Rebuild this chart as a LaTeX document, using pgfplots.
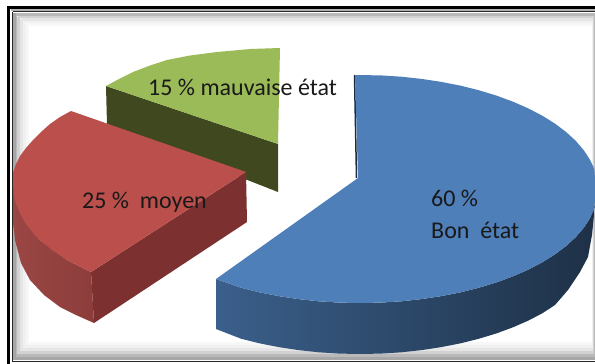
\documentclass[border=0pt]{standalone}
\usepackage{fontspec}
\setmainfont{Carlito}
\usepackage{pgfplots}
\pgfplotsset{compat=1.18}
\definecolor{bluetop}{HTML}{4E7FB9}
\definecolor{redtop}{HTML}{BA4F4C}
\definecolor{greentop}{HTML}{9BBB59}
\definecolor{greenside}{HTML}{40481F}
\definecolor{redside}{HTML}{7C3130}
\definecolor{redcurve}{HTML}{9A4644}
\definecolor{redcurveb}{HTML}{8C3D3B}
\begin{document}
\begin{tikzpicture}
\begin{axis}[
  at={(0,0)}, anchor=south west, scale only axis, width=595pt, height=364pt,
  xmin=0, xmax=595, ymin=0, ymax=364, y dir=reverse, hide axis, clip=true]
% soft inner shadow of the frame
\addplot[draw=gray!6, line width=3pt, forget plot] coordinates {(27,24) (593,24) (593,343) (27,343) (27,24)};
\addplot[draw=gray!12, line width=3pt, forget plot] coordinates {(24,21.5) (593.5,21.5) (593.5,346) (24,346) (24,21.5)};
\addplot[draw=gray!20, line width=3pt, forget plot] coordinates {(21,19) (594,19) (594,349) (21,349) (21,19)};
\addplot[draw=gray!35, line width=3pt, forget plot] coordinates {(18,16.5) (594.5,16.5) (594.5,352) (18,352) (18,16.5)};
\addplot[draw=gray!55, line width=3pt, forget plot] coordinates {(15,14) (595,14) (595,355) (15,355) (15,14)};
\addplot[draw=gray!70, line width=3pt, forget plot] coordinates {(14,13) (14,358) (595,358)};
% frame
\addplot[draw=black, line width=3.2pt, forget plot] coordinates {(8.5,7.5) (595,7.5)};
\addplot[draw=black, line width=3.2pt, forget plot] coordinates {(8.5,6) (8.5,364)};
\addplot[draw=gray!60, line width=2pt, forget plot] coordinates {(10.5,10) (595,10)};
\addplot[draw=black!85, line width=1.2pt, forget plot] coordinates {(12.5,11.7) (595,11.7)};
\addplot[draw=black!85, line width=1.2pt, forget plot] coordinates {(12.5,11.7) (12.5,361.5) (595,361.5)};
% green side
\addplot[fill=greenside, draw=none, forget plot] coordinates {(106,86) (278,144) (278,192) (107,125) (106,86)};
% green top
\addplot[fill=greentop, draw=none, forget plot] coordinates {(106,86) (119,79) (133,72) (150,65.5) (167,60) (190,55.5) (217,52) (250,49) (280,48) (278,144) (106,86)};
% red curved side
\addplot[left color=redcurve, right color=redcurveb, draw=none, forget plot] coordinates {(13,173) (20,213) (40,240) (67,260) (91,272) (94,323) (76,315) (60,307) (44,295) (30,280) (21,263) (15,240) (13,220) (13,173)};
% red front side
\addplot[fill=redside, draw=none, forget plot] coordinates {(246,172) (91,272) (94,323) (247,222) (246,172)};
% red top
\addplot[fill=redtop, draw=none, forget plot] coordinates {(71,111) (60,117) (50,124) (41,132) (33,140) (26,148) (20,156) (16,164) (13,173) (13,184) (14,195) (16,204) (20,213) (24,221) (29,228) (34,234) (40,240) (46,245) (52,250) (67,260) (91,272) (246,172) (71,111)};
% blue side
\addplot[left color=bluetop!75!black, middle color=bluetop!50!black, right color=bluetop!38!black, draw=none, forget plot] coordinates {(216,279) (241,287.7) (259.4,292.3) (278.6,296.1) (298.4,299.1) (318.7,301.3) (339.2,302.6) (360,303) (380.8,302.6) (401.3,301.3) (421.6,299.1) (441.4,296.1) (460.6,292.3) (479,287.7) (496.5,282.4) (513,276.3) (528.3,269.6) (542.3,262.3) (555,254.4) (566.1,246) (575.7,237.2) (583.6,228) (589.9,218.5) (595,205) (592,235) (588,257) (580,272) (568,290) (555,305) (542.3,313.3) (528.3,320.6) (513,327.3) (496.5,333.4) (479,338.7) (460.6,343.3) (441.4,347.1) (421.6,350.1) (401.3,352.3) (380.8,353.6) (360,354) (339.2,353.6) (318.7,352.3) (298.4,350.1) (278.6,347.1) (259.4,343.3) (241,338.7) (216,329) (216,279)};
% blue inner edge
\addplot[draw=bluetop!35!black, line width=1.5pt, forget plot] coordinates {(354.5,75) (356.5,178)};
% blue top
\addplot[fill=bluetop, draw=none, forget plot] coordinates {(355,75) (380.8,75.4) (401.3,76.7) (421.6,78.9) (441.4,81.9) (460.6,85.7) (479,90.3) (496.5,95.6) (513,101.7) (528.3,108.4) (542.3,115.7) (555,123.6) (566.1,132) (575.7,140.8) (583.6,150) (589.9,159.5) (594.4,169.2) (595,179) (595,199) (594.4,208.8) (589.9,218.5) (583.6,228) (575.7,237.2) (566.1,246) (555,254.4) (542.3,262.3) (528.3,269.6) (513,276.3) (496.5,282.4) (479,287.7) (460.6,292.3) (441.4,296.1) (421.6,299.1) (401.3,301.3) (380.8,302.6) (360,303) (339.2,302.6) (318.7,301.3) (298.4,299.1) (278.6,296.1) (259.4,292.3) (241,287.7) (216,279) (358,178) (355,75)};
\node[anchor=west, inner sep=0pt, text=black!90, font=\fontsize{24}{28}\selectfont] at (axis cs:148,87) {15 \% mauvaise état};
\node[anchor=west, inner sep=0pt, text=black!90, font=\fontsize{24}{28}\selectfont] at (axis cs:82,202) {25 \%\ \ moyen};
\node[anchor=west, inner sep=0pt, text=black!90, font=\fontsize{24}{28}\selectfont] at (axis cs:431,198) {60 \%};
\node[anchor=west, inner sep=0pt, text=black!90, font=\fontsize{24}{28}\selectfont] at (axis cs:431,230) {Bon\ \ état};
\end{axis}
\pgfresetboundingbox
\path[use as bounding box] (current axis.south west) rectangle (current axis.north east);
\end{tikzpicture}
\end{document}
